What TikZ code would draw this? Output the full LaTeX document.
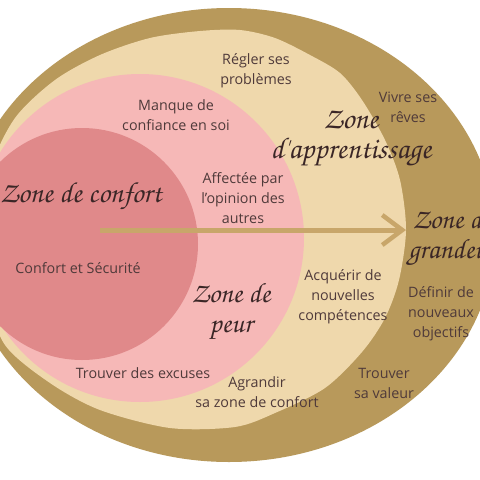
\documentclass[tikz,border=0pt]{standalone}
\usepackage{fontspec}
\setmainfont{Open Sans}
\newfontfamily\zonefont{TeX Gyre Chorus}
\usetikzlibrary{arrows.meta}
\definecolor{cGold}{HTML}{B8995B}
\definecolor{cCream}{HTML}{EFD8AC}
\definecolor{cPink}{HTML}{F6B8B7}
\definecolor{cRose}{HTML}{E0898A}
\definecolor{cArrow}{HTML}{C8A66A}
\definecolor{cTxt}{HTML}{4F3A3A}
\definecolor{cZone}{HTML}{3A2626}
\begin{document}
\begin{tikzpicture}[x=1pt,y=-1pt,
  lbl/.style={font=\fontsize{14.3}{20}\selectfont, text=cTxt, align=center, inner sep=0pt},
  zone/.style={font=\zonefont\fontsize{28}{30}\selectfont, text=cZone, align=center, inner sep=0pt},
  arrowline/.style={line width=5pt, draw=cArrow, -{Straight Barb[length=20pt,width=30pt,line width=4.5pt]}}]
\useasboundingbox (0,0) rectangle (480,480);
\begin{scope}
\clip (0,0) rectangle (480,480);
\fill[white] (0,0) rectangle (480,480);
\fill[cGold] (229,235) ellipse [x radius=266, y radius=227];
\fill[cCream] plot[smooth cycle] coordinates {(100,55) (150,38) (200,31) (240,30) (275,38) (310,55) (340,73) (362,100) (385,140) (400,180) (406,230) (399,280) (385,318) (362,352) (325,388) (275,413) (235,427) (170,428) (100,410) (50,383) (5,345) (-15,290) (-20,235) (-10,170) (15,118) (55,80)};
\fill[cPink] (140,238) circle [radius=164];
\fill[cRose] (82,244) circle [radius=116];
\coordinate (aS) at (100,230);
\coordinate (aE) at (406,230);
\draw[arrowline] (aS) -- (aE);
\node[zone, font=\zonefont\fontsize{29}{30}\selectfont] (zc) at (81,196) {Zone de confort};
\node[zone, font=\zonefont\fontsize{30}{30}\selectfont] (za) at (351,138) {Zone\\d'apprentissage};
\node[zone] (zg) at (452,237) {Zone de\\grandeur};
\node[zone] (zp) at (231,311) {Zone de\\peur};
\node[lbl] (l1) at (256,71) {Régler ses\\problèmes};
\node[lbl] (l2) at (176,115) {Manque de\\confiance en soi};
\node[lbl] (l3) at (408,107) {Vivre ses\\rêves};
\node[lbl] (l4) at (243,198) {Affectée par\\l'opinion des\\autres};
\node[lbl] (l5) at (78,268) {Confort et Sécurité};
\node[lbl] (l6) at (343,297) {Acquérir de\\nouvelles\\compétences};
\node[lbl] (l7) at (441,314) {Définir de\\nouveaux\\objectifs};
\node[lbl] (l8) at (143,373) {Trouver des excuses};
\node[lbl] (l9) at (257,392) {Agrandir\\sa zone de confort};
\node[lbl] (l10) at (384,383) {Trouver\\sa valeur};
\end{scope}
\end{tikzpicture}
\end{document}
